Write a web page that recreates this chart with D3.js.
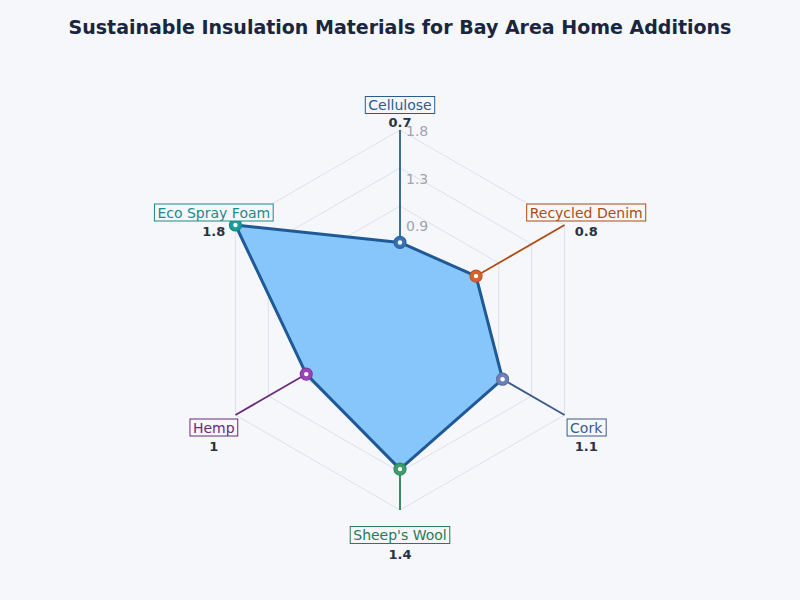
<!DOCTYPE html>
<html>
<head>
<meta charset="utf-8">
<script src="https://cdn.jsdelivr.net/npm/d3@7"></script>
<style>
  body { margin: 0; background: #f5f7fb; }
  svg { font-family: "DejaVu Sans", sans-serif; }
</style>
</head>
<body>
<div id="chart"></div>
<script>
const materials = ["Cellulose", "Recycled Denim", "Cork", "Sheep's Wool", "Hemp", "Eco Spray Foam"];
const ratings = [0.7, 0.8, 1.1, 1.4, 1, 1.8];
const lineColors = ["#2a5d8c", "#b04a12", "#3c5a88", "#2a7a55", "#6a2a80", "#1f8a88"];
const dotColors = ["#3572b5", "#d8632a", "#6d80b8", "#3c9c6a", "#9a44b8", "#1a9e9a"];
const tickValues = [0.9, 1.35, 1.8];
const tickLabels = ["0.9", "1.3", "1.8"];
const gridLevels = [1, 2, 3, 4, 5];

const width = 800, height = 600;
const cx = 400, cy = 320, R = 190;

const svg = d3.select("#chart").append("svg").attr("width", width).attr("height", height);
svg.append("rect").attr("width", width).attr("height", height).attr("fill", "#f5f7fb");

svg.append("text")
  .attr("x", width / 2).attr("y", 34)
  .attr("text-anchor", "middle")
  .attr("font-size", 19).attr("font-weight", "bold")
  .attr("fill", "#1a2540")
  .text("Sustainable Insulation Materials for Bay Area Home Additions");

const g = svg.append("g").attr("transform", `translate(${cx},${cy})`);

// axes start at the top and go clockwise
const angleStep = 2 * Math.PI / materials.length;
function ang(i) { return i * angleStep - Math.PI / 2; }

const r = d3.scaleLinear().domain([0, 1.8]).range([6, R]);
const tickR = d3.scaleLinear().domain([0, 1.8]).range([0, R]);
const gridR = d3.scaleLinear().domain([0, gridLevels.length]).range([0, R]);

// hexagon grid
gridLevels.forEach(function(lvl) {
  const pts = materials.map(function(m, i) {
    return [gridR(lvl) * Math.cos(ang(i)), gridR(lvl) * Math.sin(ang(i))];
  });
  g.append("polygon")
    .attr("points", pts.map(p => p.join(",")).join(" "))
    .attr("fill", "none")
    .attr("stroke", "#dde1e8")
    .attr("stroke-width", 1);
});

// coloured axis spokes
g.selectAll(".spoke").data(materials).enter().append("line")
  .attr("class", "spoke")
  .attr("x1", 0).attr("y1", 0)
  .attr("x2", (d, i) => R * Math.cos(ang(i)))
  .attr("y2", (d, i) => R * Math.sin(ang(i)))
  .attr("stroke", (d, i) => lineColors[i])
  .attr("stroke-width", 1.8);

// data polygon
const radarLine = d3.lineRadial()
  .angle((d, i) => i * angleStep)
  .radius(d => r(d))
  .curve(d3.curveLinearClosed);

g.append("path")
  .datum(ratings)
  .attr("d", radarLine)
  .attr("fill", "#87c6fb")
  .attr("stroke", "#1f5a96")
  .attr("stroke-width", 3)
  .attr("stroke-linejoin", "round");

// tick labels
g.selectAll(".tick-label").data(tickValues).enter().append("text")
  .attr("class", "tick-label")
  .attr("x", 6)
  .attr("y", d => -tickR(d) + 6)
  .attr("font-size", 14)
  .attr("fill", "#a0a4ae")
  .text((d, i) => tickLabels[i]);

// points
const pts = g.selectAll(".pt").data(ratings).enter().append("g")
  .attr("class", "pt")
  .attr("transform", (d, i) => `translate(${r(d) * Math.cos(ang(i))},${r(d) * Math.sin(ang(i))})`);
pts.append("circle")
  .attr("r", 6)
  .attr("fill", (d, i) => dotColors[i])
  .attr("stroke", (d, i) => d3.color(dotColors[i]).darker(0.4))
  .attr("stroke-width", 1.2);
pts.append("circle")
  .attr("r", 2.2)
  .attr("fill", "#ffffff");

// axis labels with boxes
const labelR = 215;
const labels = g.selectAll(".axis-label").data(materials).enter().append("g")
  .attr("class", "axis-label")
  .attr("transform", (d, i) => `translate(${labelR * Math.cos(ang(i))},${labelR * Math.sin(ang(i))})`);

labels.append("text")
  .attr("class", "name")
  .attr("text-anchor", "middle")
  .attr("y", 5)
  .attr("font-size", 14)
  .attr("fill", (d, i) => lineColors[i])
  .text(d => d);

labels.each(function(d, i) {
  const t = d3.select(this).select("text.name");
  const bb = t.node().getBBox();
  d3.select(this).insert("rect", "text")
    .attr("x", bb.x - 3).attr("y", -8.5)
    .attr("width", bb.width + 6).attr("height", 17)
    .attr("fill", "#f5f7fb")
    .attr("stroke", lineColors[i])
    .attr("stroke-width", 1);
});

labels.append("text")
  .attr("text-anchor", "middle")
  .attr("y", (d, i) => i === 0 ? 22 : 23.5)
  .attr("font-size", 13)
  .attr("font-weight", "bold")
  .attr("fill", "#2a3142")
  .text((d, i) => ratings[i]);
</script>
</body>
</html>
